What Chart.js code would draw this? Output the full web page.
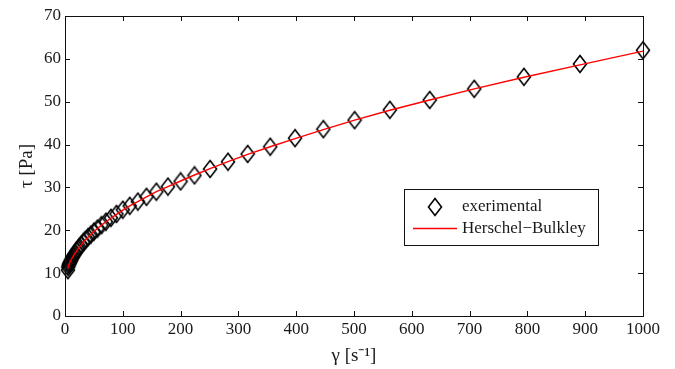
<!DOCTYPE html>
<html>
<head>
<meta charset="utf-8">
<script src="https://cdn.jsdelivr.net/npm/chart.js"></script>
<style>
  html, body { margin: 0; padding: 0; background: #fff; }
</style>
</head>
<body>
<canvas id="flowChart" width="675" height="369"></canvas>
<script>
// shear rate (1/s)
const shearRate = [5.0, 5.6, 6.3, 7.1, 7.9, 8.9, 10, 11.2, 12.6, 14.1,
  15.8, 17.8, 20, 22.4, 25.1, 28.2, 31.6, 35.5, 39.8, 44.7,
  50.1, 56.2, 63.1, 70.8, 79.4, 89.1, 100, 112, 126, 141,
  158, 178, 200, 224, 251, 282, 316, 355, 398, 447,
  501, 562, 631, 708, 794, 891, 1000];

// measured shear stress (Pa)
const stressExp = [10.7, 11.4, 11.8, 12.1, 12.3, 12.6, 12.9, 13.2, 13.6, 13.9,
  14.3, 14.7, 15.2, 15.6, 16.1, 16.6, 17.2, 17.8, 18.4, 19.0,
  19.7, 20.4, 21.2, 22.0, 22.9, 23.8, 24.8, 25.7, 26.7, 27.8,
  29.0, 30.2, 31.4, 32.8, 34.3, 36.0, 37.8, 39.5, 41.5, 43.6,
  45.7, 48.1, 50.4, 53.0, 55.8, 58.8, 62.0];

// Herschel-Bulkley fit curve (Pa)
const stressFit = [11.1, 11.5, 11.8, 12.1, 12.4, 12.7, 13.0, 13.3, 13.6, 13.9,
  14.3, 14.7, 15.1, 15.6, 16.1, 16.6, 17.2, 17.8, 18.4, 19.0,
  19.7, 20.4, 21.2, 22.0, 22.8, 23.7, 24.7, 25.7, 26.7, 27.8,
  29.0, 30.2, 31.5, 32.9, 34.4, 36.0, 37.7, 39.5, 41.4, 43.5,
  45.7, 48.0, 50.4, 53.0, 55.7, 58.6, 61.8];

const xTicks = [0, 100, 200, 300, 400, 500, 600, 700, 800, 900, 1000];
const yTicks = [0, 10, 20, 30, 40, 50, 60, 70];
const legendLabels = ['exerimental', 'Herschel\u2212Bulkley'];

const serif = 'Liberation Serif, Times New Roman, serif';
const textColor = '#1a1a1a';

// matlab style open diamond marker
const makeDiamond = () => {
  const c = document.createElement('canvas');
  c.width = 16;
  c.height = 20;
  const g = c.getContext('2d');
  g.strokeStyle = '#000';
  g.lineWidth = 1.6;
  g.beginPath();
  g.moveTo(8, 1.5);
  g.lineTo(14.5, 10);
  g.lineTo(8, 18.5);
  g.lineTo(1.5, 10);
  g.closePath();
  g.stroke();
  return c;
};
const diamond = makeDiamond();

const toPoints = (xs, ys) => xs.map((x, i) => ({ x: x, y: ys[i] }));

// box + inward ticks on all four sides, and the legend inside the plot
const boxPlugin = {
  id: 'boxPlugin',
  afterDraw(chart) {
    const ctx = chart.ctx;
    const a = chart.chartArea;
    const xs = chart.scales.x;
    const ys = chart.scales.y;
    ctx.save();
    ctx.strokeStyle = '#111';
    ctx.lineWidth = 1;
    ctx.strokeRect(Math.round(a.left) + 0.5, Math.round(a.top) + 0.5,
      Math.round(a.right - a.left), Math.round(a.bottom - a.top));
    ctx.beginPath();
    xTicks.forEach(v => {
      const px = Math.round(xs.getPixelForValue(v)) + 0.5;
      ctx.moveTo(px, a.bottom); ctx.lineTo(px, a.bottom - 5);
      ctx.moveTo(px, a.top); ctx.lineTo(px, a.top + 5);
    });
    yTicks.forEach(v => {
      const py = Math.round(ys.getPixelForValue(v)) + 0.5;
      ctx.moveTo(a.left, py); ctx.lineTo(a.left + 5, py);
      ctx.moveTo(a.right, py); ctx.lineTo(a.right - 5, py);
    });
    ctx.stroke();

    // legend
    const lx = 404.5, ly = 189.5, lw = 194, lh = 56;
    ctx.fillStyle = '#fff';
    ctx.fillRect(lx, ly, lw, lh);
    ctx.strokeRect(lx, ly, lw, lh);
    ctx.drawImage(diamond, 435 - 8, 207 - 10);
    ctx.strokeStyle = '#ff0000';
    ctx.lineWidth = 1.3;
    ctx.beginPath();
    ctx.moveTo(413, 228.5);
    ctx.lineTo(457, 228.5);
    ctx.stroke();
    ctx.fillStyle = textColor;
    ctx.font = '17px ' + serif;
    ctx.textBaseline = 'middle';
    ctx.textAlign = 'left';
    ctx.fillText(legendLabels[0], 462, 207);
    ctx.fillText(legendLabels[1], 462, 229);
    ctx.restore();
  }
};

const flowChart = new Chart(document.getElementById('flowChart'), {
  type: 'scatter',
  data: {
    datasets: [
      {
        label: legendLabels[1],
        data: toPoints(shearRate, stressFit),
        showLine: true,
        borderColor: '#ff0000',
        borderWidth: 1.4,
        pointRadius: 0,
        tension: 0,
        clip: false,
        order: 0
      },
      {
        label: legendLabels[0],
        data: toPoints(shearRate, stressExp),
        pointStyle: diamond,
        showLine: false,
        clip: false,
        order: 1
      }
    ]
  },
  options: {
    responsive: false,
    animation: false,
    layout: { padding: { top: 16, right: 32, left: 0, bottom: 0 } },
    plugins: {
      legend: { display: false },
      tooltip: { enabled: false }
    },
    scales: {
      x: {
        type: 'linear',
        min: 0,
        max: 1000,
        afterFit: (scale) => { scale.height = 53; },
        afterBuildTicks: (scale) => { scale.ticks = xTicks.map(v => ({ value: v })); },
        ticks: {
          color: textColor,
          font: { family: serif, size: 17 },
          padding: 3,
          maxRotation: 0,
          callback: (v) => String(v)
        },
        grid: { display: false, drawTicks: false },
        border: { display: false },
        title: {
          display: true,
          text: '\u03b3 [s\u207b\u00b9]',
          color: textColor,
          font: { family: serif, size: 19 },
          padding: { top: 0, bottom: 2 }
        }
      },
      y: {
        type: 'linear',
        min: 0,
        max: 70,
        afterFit: (scale) => { scale.width = 65; },
        afterBuildTicks: (scale) => { scale.ticks = yTicks.map(v => ({ value: v })); },
        ticks: {
          color: textColor,
          font: { family: serif, size: 17 },
          padding: 4,
          callback: (v) => String(v)
        },
        grid: { display: false, drawTicks: false },
        border: { display: false },
        title: {
          display: true,
          text: '\u03c4 [Pa]',
          color: textColor,
          font: { family: serif, size: 19 },
          padding: { top: 16, bottom: 0 }
        }
      }
    }
  },
  plugins: [boxPlugin]
});
</script>
</body>
</html>
